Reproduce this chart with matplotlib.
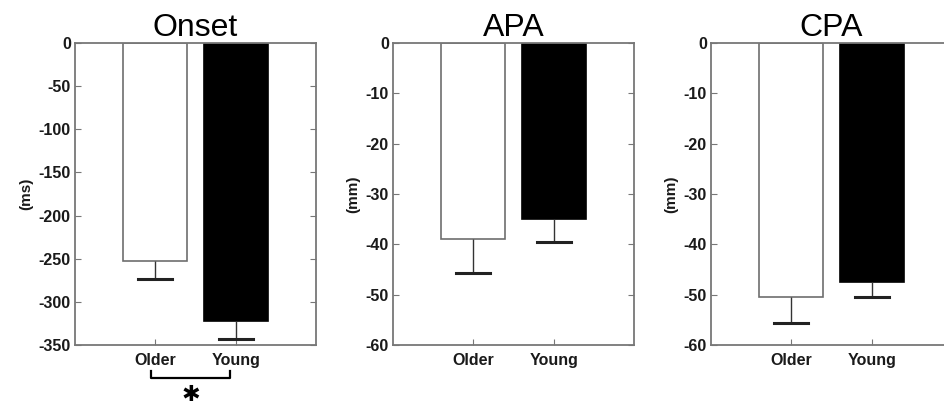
import matplotlib.pyplot as plt
from matplotlib.transforms import blended_transform_factory

groups = ['Older', 'Young']
titles = ['Onset', 'APA', 'CPA']
ylabels = ['(ms)', '(mm)', '(mm)']

onset_mean = [-253, -322]
onset_err = [21, 21]
apa_mean = [-39, -35]
apa_err = [6.6, 4.5]
cpa_mean = [-50.5, -47.4]
cpa_err = [5.2, 3.1]

ylims = [(-350, 0), (-60, 0), (-60, 0)]
yticks = [list(range(-350, 1, 50)), list(range(-60, 1, 10)), list(range(-60, 1, 10))]

plt.rcParams['font.family'] = ['Liberation Sans', 'DejaVu Sans']
plt.rcParams['axes.unicode_minus'] = False

fig = plt.figure(figsize=(9.45, 4.12), dpi=100)
lefts = [0.0794, 0.4159, 0.7524]
data = [(onset_mean, onset_err), (apa_mean, apa_err), (cpa_mean, cpa_err)]
spine_col = '#777777'

axes = []
for i, (means, errs) in enumerate(data):
    ax = fig.add_axes([lefts[i], 0.1626, 0.2550, 0.733])
    x = [1, 2]
    ax.bar(x, means, width=0.8, color=['white', 'black'],
           edgecolor=['#6e6e6e', 'black'], linewidth=1.2)
    # one-sided (downward) error bars
    ax.errorbar(x, means, yerr=[errs, [0, 0]], fmt='none', ecolor='#333333',
                elinewidth=1.0, capsize=0)
    for xi, m, e in zip(x, means, errs):
        ax.plot([xi - 0.21, xi + 0.21], [m - e, m - e], color='#222222', lw=2.2)
    ax.set_xlim(0, 3)
    ax.set_ylim(*ylims[i])
    ax.set_xticks(x)
    ax.set_xticklabels(groups)
    ax.set_yticks(yticks[i])
    ax.tick_params(direction='in', length=4, color=spine_col, labelsize=11.5,
                   right=True, pad=3)
    ax.tick_params(axis='x', pad=6)
    for lab in ax.get_xticklabels() + ax.get_yticklabels():
        lab.set_fontweight('bold')
        lab.set_color('#1a1a1a')
    for s in ax.spines.values():
        s.set_color(spine_col)
        s.set_linewidth(1.3)
    ax.set_title(titles[i], fontsize=23, pad=3)
    ax.set_ylabel(ylabels[i], fontsize=11, fontweight='bold', color='#1a1a1a',
                  labelpad=4)
    axes.append(ax)

# significance bracket under Onset panel
ax = axes[0]
tr = blended_transform_factory(ax.transData, ax.transAxes)
ax.plot([0.94, 0.94, 1.93, 1.93], [-0.085, -0.11, -0.11, -0.085],
        transform=tr, color='black', lw=1.6, clip_on=False)
ax.text(1.44, -0.165, '\u2731', transform=tr, ha='center', va='center',
        fontsize=16, family=['DejaVu Sans'])

fig.savefig('out.png', dpi=100)
